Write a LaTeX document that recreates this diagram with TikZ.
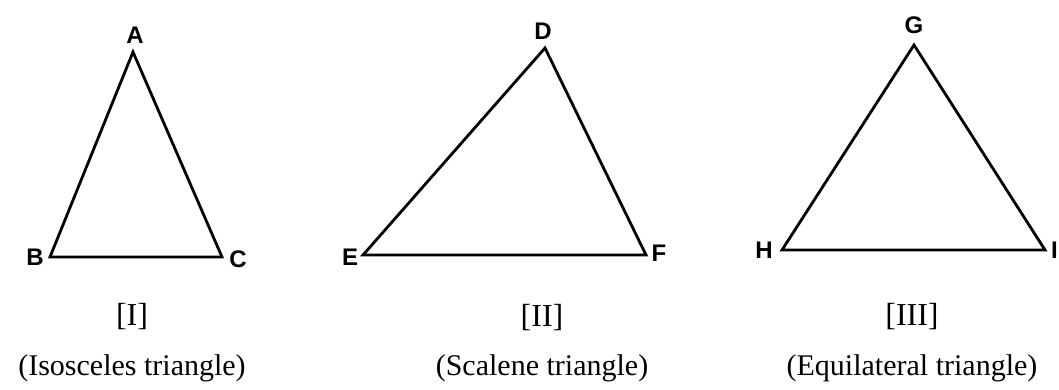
\documentclass[tikz,border=0pt]{standalone}
\usepackage{fontspec}
\setmainfont{Liberation Serif}
\newfontfamily\labfont{Liberation Sans}
\begin{document}
\begin{tikzpicture}[x=1pt,y=-1pt,
  tri/.style={line width=2.8pt,line join=miter},
  vlab/.style={font=\labfont\bfseries\fontsize{24}{24}\selectfont,inner sep=0pt},
  numlab/.style={font=\fontsize{32}{32}\selectfont,inner sep=0pt},
  caplab/.style={font=\fontsize{30}{30}\selectfont,inner sep=0pt}]
\useasboundingbox (0,0) rectangle (1059,390);
% triangle I
\coordinate (A) at (133,52);
\coordinate (B) at (50,257);
\coordinate (C) at (222,257);
\draw[tri] (A) -- (B) -- (C) -- cycle;
\node[vlab] (lA) at (135,35) {A};
\node[vlab] (lB) at (35,257) {B};
\node[vlab] (lC) at (238,259) {C};
\node[numlab] (n1) at (132,317) {[I]};
\node[caplab] (c1) at (132,368) {(Isosceles triangle)};
% triangle II
\coordinate (D) at (545,48);
\coordinate (E) at (363,255);
\coordinate (F) at (646,255);
\draw[tri] (D) -- (E) -- (F) -- cycle;
\node[vlab] (lD) at (543,31) {D};
\node[vlab] (lE) at (350,257) {E};
\node[vlab] (lF) at (659,253) {F};
\node[numlab] (n2) at (542,318) {[II]};
\node[caplab] (c2) at (542,368) {(Scalene triangle)};
% triangle III
\coordinate (G) at (914,45);
\coordinate (H) at (782,250);
\coordinate (I) at (1045,250);
\draw[tri] (G) -- (H) -- (I) -- cycle;
\node[vlab] (lG) at (914,25) {G};
\node[vlab] (lH) at (764,250) {H};
\node[vlab] (lI) at (1054.5,250) {I};
\node[numlab] (n3) at (912,317) {[III]};
\node[caplab] (c3) at (912,368) {(Equilateral triangle)};
\end{tikzpicture}
\end{document}
